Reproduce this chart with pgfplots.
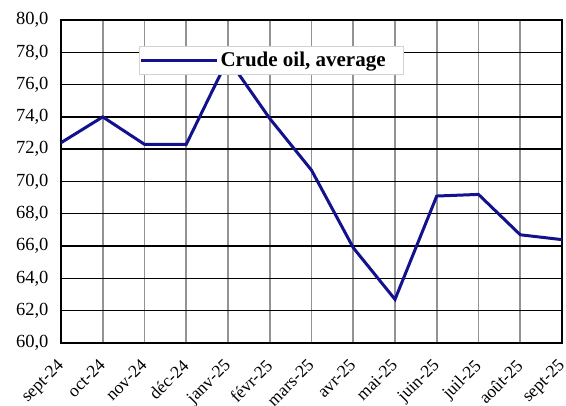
\documentclass[border=0pt]{standalone}
\usepackage{pgfplots}
\pgfplotsset{compat=1.18}
\usepackage{fontspec}
\setmainfont{Liberation Serif}
\definecolor{oilblue}{RGB}{18,18,140}
\begin{document}
\begin{tikzpicture}
\path[use as bounding box] (-61pt,-63pt) rectangle (505pt,343pt);
\begin{axis}[
  scale only axis,
  width=501pt, height=323pt,
  xmin=0, xmax=12, ymin=60, ymax=80,
  xtick={0,...,12},
  xticklabels={sept-24,oct-24,nov-24,déc-24,janv-25,févr-25,mars-25,avr-25,mai-25,juin-25,juil-25,août-25,sept-25},
  x tick label style={xshift=-5pt, yshift=-15pt, rotate=45, anchor=north east, font=\fontsize{17.5}{17.5}\selectfont, inner sep=0pt},
  ytick={60,62,...,80},
  y tick label style={font=\fontsize{18.5}{18.5}\selectfont, xshift=-9pt},
  /pgf/number format/.cd, fixed, fixed zerofill, precision=1, use comma, assume math mode=true,
  /pgfplots/.cd,
  xmajorgrids, ymajorgrids,
  x grid style={draw=gray!85, line width=1.8pt},
  y grid style={draw=black, line width=1.4pt},
  axis line style={draw=black, line width=1.8pt},
  major tick length=0pt,
  legend style={at={(rel axis cs:0.156,0.92)}, anchor=north west, draw=gray!35, line width=0.8pt, fill=white, font=\bfseries\fontsize{21}{21}\selectfont, inner xsep=0pt, inner ysep=0pt,
    nodes={inner xsep=2pt, inner ysep=6pt}},
  legend cell align=left,
  legend image code/.code={\draw[#1, line width=3pt] (22pt,0pt) -- (74pt,0pt); \path (0pt,0pt) -- (76pt,0pt);},
]
\addplot[color=oilblue, line width=3pt, mark=none] coordinates {
(0,72.4) (1,74.0) (2,72.3) (3,72.3) (4,77.6) (5,73.9) (6,70.7) (7,65.9) (8,62.7) (9,69.1) (10,69.2) (11,66.7) (12,66.4)
};
\addlegendentry{Crude oil, average\rule{16pt}{0pt}}
\end{axis}
\end{tikzpicture}
\end{document}
